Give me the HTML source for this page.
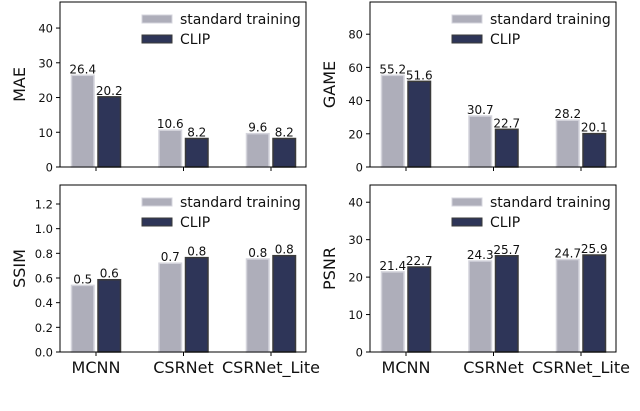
<!DOCTYPE html>
<html><head><meta charset="utf-8"><style>
body{margin:0;background:#fff}
svg text{font-family:"DejaVu Sans","Liberation Sans",sans-serif;fill:#111}
</style></head><body>
<svg id="c" width="640" height="406" viewBox="0 0 640 406"></svg>
<script>
const categories=["MCNN","CSRNet","CSRNet_Lite"];
const seriesNames=["standard training","CLIP"];
const maeStd=[26.4,10.6,9.6], maeClip=[20.2,8.2,8.2];
const gameStd=[55.2,30.7,28.2], gameClip=[51.6,22.7,20.1];
const ssimStd=[0.54,0.72,0.754], ssimClip=[0.586,0.765,0.781];
const psnrStd=[21.4,24.3,24.7], psnrClip=[22.7,25.7,25.9];
const maeTicks=[0,10,20,30,40], gameTicks=[0,20,40,60,80];
const ssimTicks=[0,0.2,0.4,0.6,0.8,1.0,1.2], psnrTicks=[0,10,20,30,40];
const NS="http://www.w3.org/2000/svg", svg=document.getElementById('c');
function mk(t,a,p){const e=document.createElementNS(NS,t);for(const k in a)e.setAttribute(k,a[k]);(p||svg).appendChild(e);return e;}
const panels=[
 {name:"mae",label:"MAE",x0:60,top:2,bot:167,ymax:47.5,s:maeStd,c:maeClip,ticks:maeTicks,dec:0,xl:false},
 {name:"game",label:"GAME",x0:370,top:2,bot:167,ymax:99.4,s:gameStd,c:gameClip,ticks:gameTicks,dec:0,xl:false},
 {name:"ssim",label:"SSIM",x0:60,top:185,bot:352,ymax:1.354,s:ssimStd,c:ssimClip,ticks:ssimTicks,dec:1,xl:true},
 {name:"psnr",label:"PSNR",x0:370,top:185,bot:352,ymax:44.6,s:psnrStd,c:psnrClip,ticks:psnrTicks,dec:0,xl:true}];
panels.forEach(P=>{
 const g=mk('g',{});
 
 
 const W=246;
 const y=v=>P.bot-(v/P.ymax)*(P.bot-P.top);
 const xc=i=>P.x0+36+i*87.5;
 P.ticks.forEach(t=>{
  const yy=y(t);
  mk('line',{x1:P.x0-4,x2:P.x0,y1:yy,y2:yy,stroke:'#000','stroke-width':1},g);
  const tx=mk('text',{x:P.x0-7,y:yy+4.5,'text-anchor':'end','font-size':11.5},g);
  tx.textContent=t.toFixed(P.dec);
  
  
 });
 categories.forEach((c,i)=>{
  const cx=xc(i);
  mk('line',{x1:cx,x2:cx,y1:P.bot,y2:P.bot+4,stroke:'#000'},g);
  [[P.s[i],'#aeaeba','#d4d4dc',cx-24.5,'bar-standard-'+c],[P.c[i],'#2e3558','#3a3a3a',cx+2,'bar-clip-'+c]].forEach(([v,f,s,bx,nm])=>{
   const r=mk('rect',{x:bx,y:y(v),width:22.5,height:P.bot-y(v),fill:f,stroke:s,'stroke-width':1.5},g);
   
   
   const t=mk('text',{x:bx+11.25,y:y(v)-2,'text-anchor':'middle','font-size':12},g);
   t.textContent=v.toFixed(1);
   
   
  });
  if(P.xl){const t=mk('text',{x:cx,y:373,'text-anchor':'middle','font-size':16},g);t.textContent=c;
   
   }
 });
 mk('rect',{x:P.x0,y:P.top,width:W,height:P.bot-P.top,fill:'none',stroke:'#000','stroke-width':1},g);
 const yl=mk('text',{transform:`translate(${P.x0-35},${(P.top+P.bot)/2}) rotate(-90)`,'text-anchor':'middle','font-size':16},g);
 yl.textContent=P.label;
 
 
 const lx=P.x0+82, ly=P.top+17;
 seriesNames.forEach((n,k)=>{
  const lg=mk('g',{},g);
  
  
  mk('rect',{x:lx,y:ly+k*20-4,width:30,height:8,fill:k?'#2e3558':'#aeaeba',stroke:k?'#3a3a3a':'#d4d4dc'},lg);
  const t=mk('text',{x:lx+38,y:ly+k*20+5,'font-size':14},lg);t.textContent=n;
 });
});
</script>
</body></html>
